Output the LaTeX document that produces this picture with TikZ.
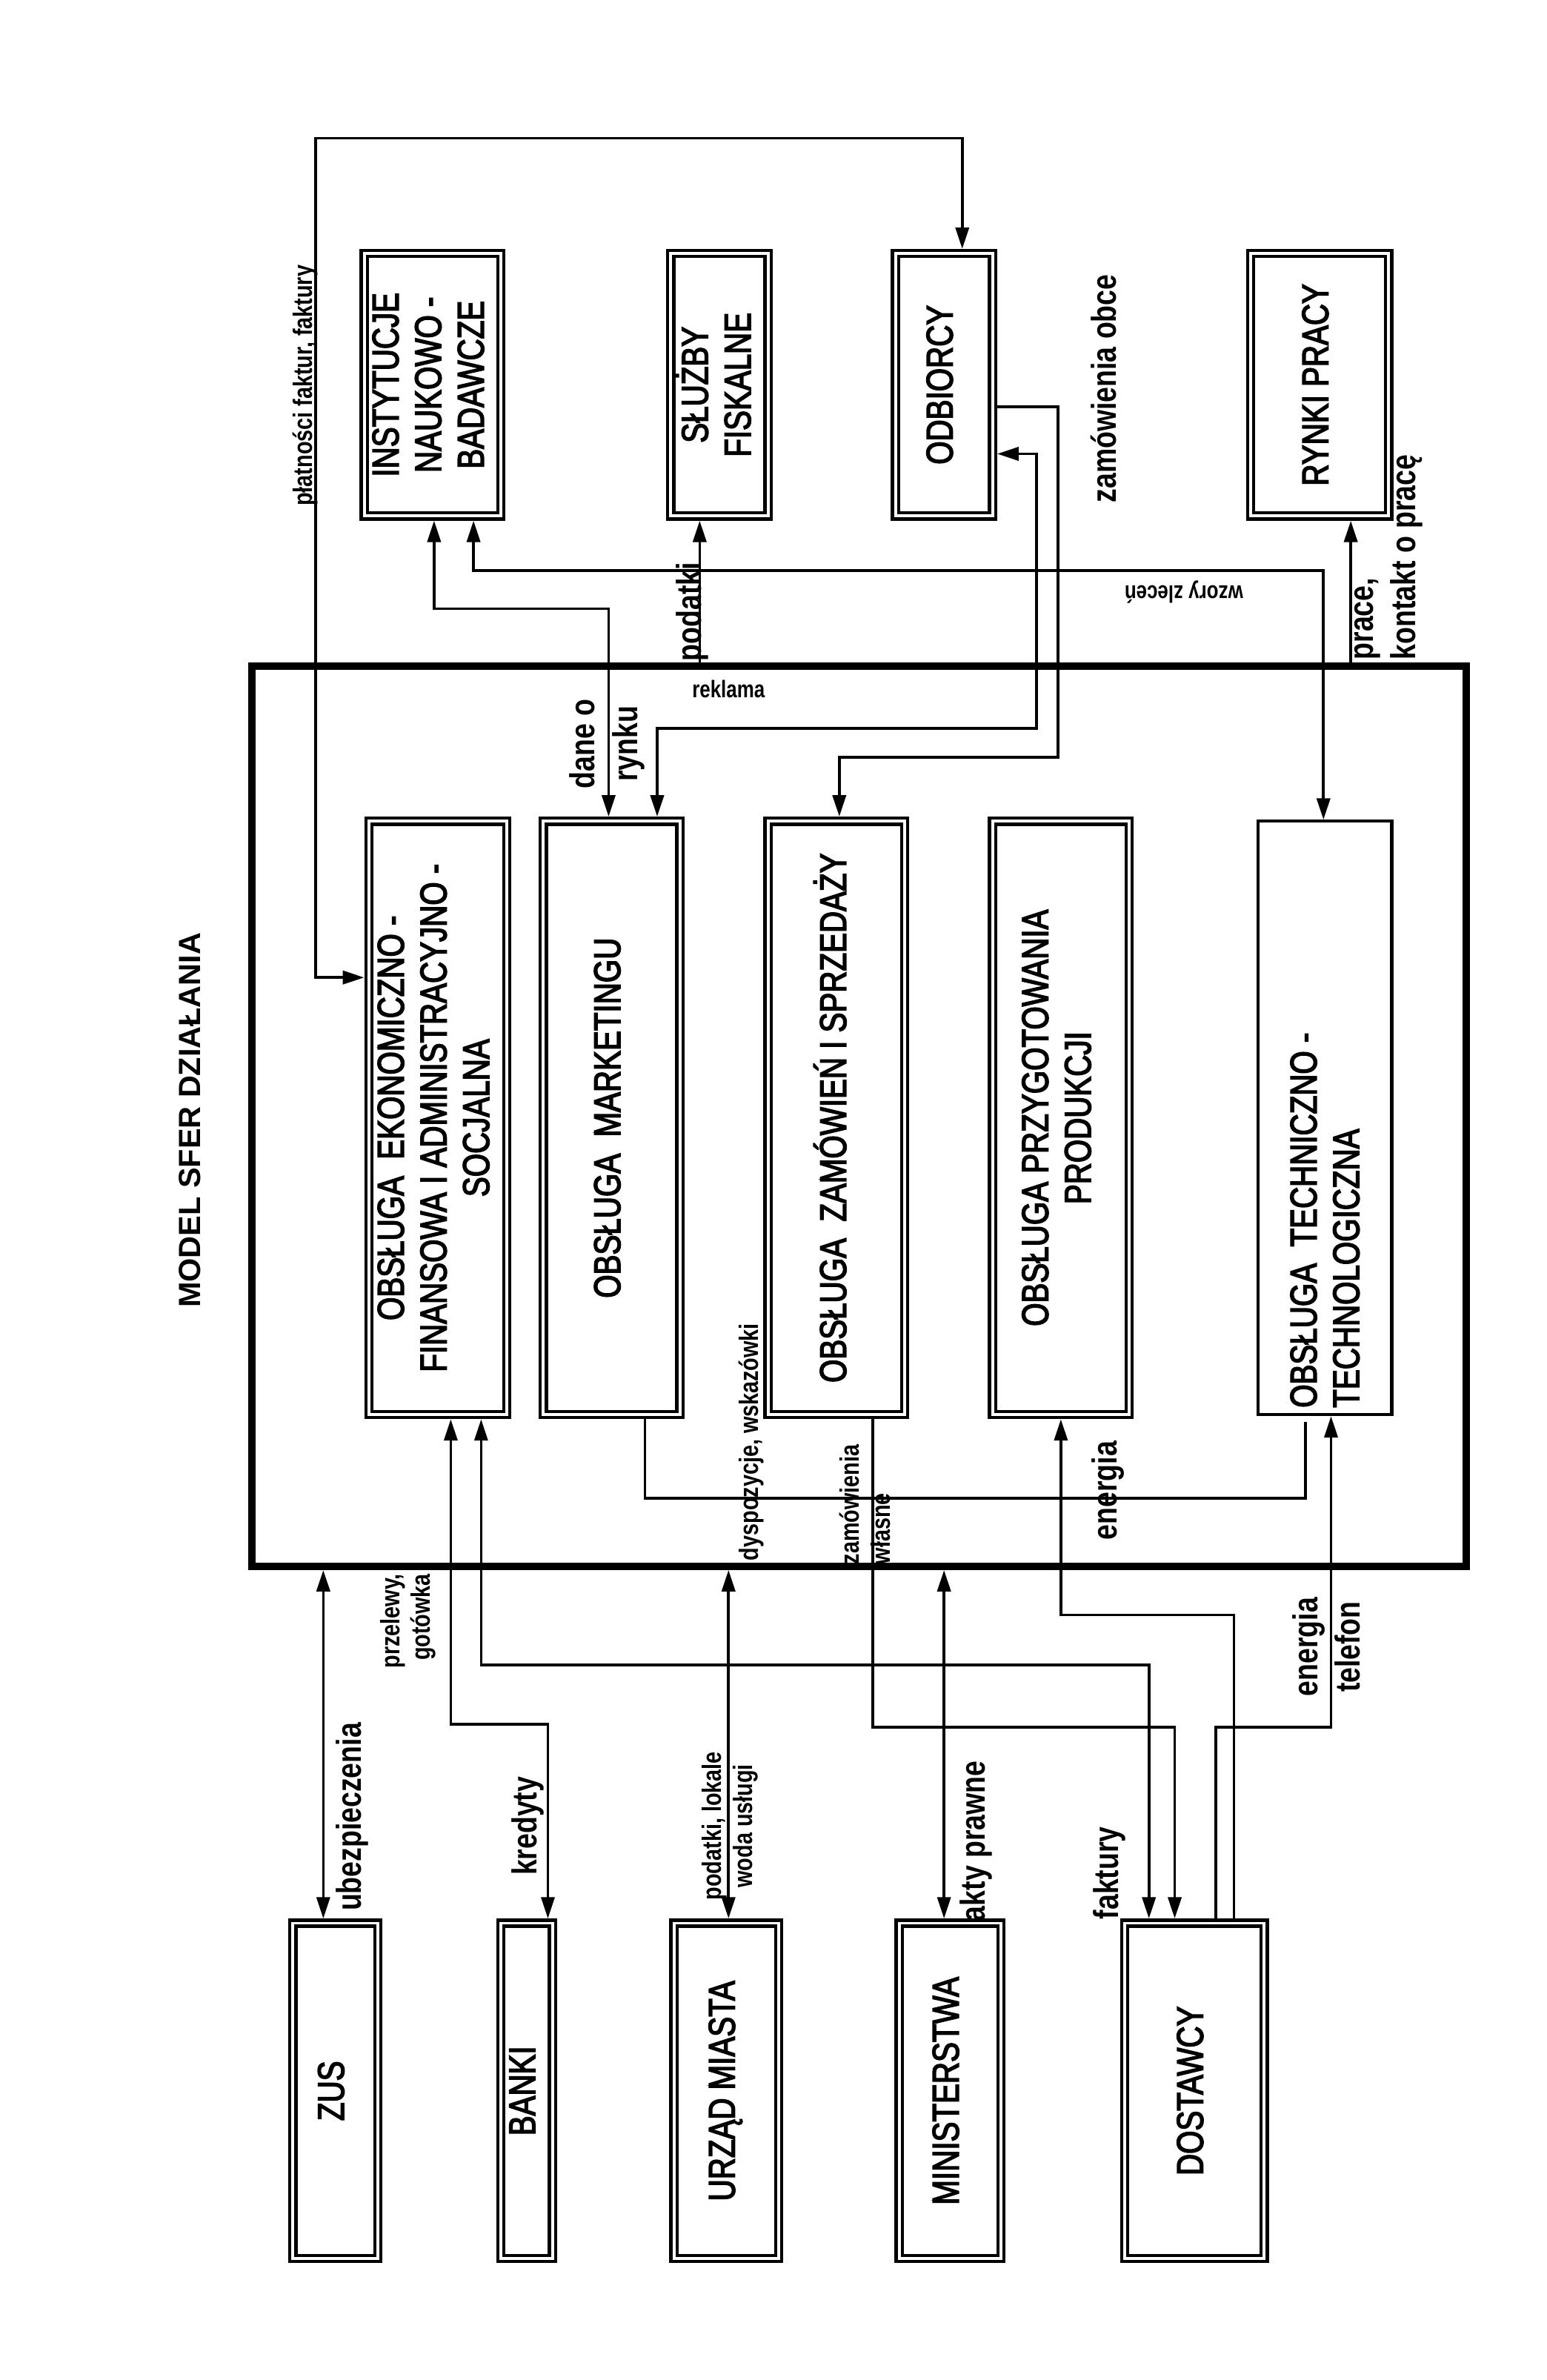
\documentclass[tikz,border=0pt]{standalone}
\usepackage{fontspec}
\usepackage{graphicx}
\setmainfont{Liberation Sans}
\newfontfamily\waski{Liberation Sans}[FakeStretch=0.8]
\newfontfamily\waskigr{Liberation Sans}[FakeStretch=0.8, FakeBold=3]
\usetikzlibrary{arrows.meta}

\newcommand{\pion}[1]{\rotatebox{90}{\begin{tabular}{@{}c@{}}#1\end{tabular}}}

\tikzset{
  sfera/.style={draw, double, double distance=1.1pt, line width=1.2pt, inner sep=0pt, outer sep=1.75pt,
    font=\waskigr\fontsize{14}{16}\selectfont},
  lacz/.style={line width=1pt},
  strz/.style={lacz, -{Triangle[length=8pt,width=5pt]}},
  strzz/.style={lacz, {Triangle[length=8pt,width=5pt]}-{Triangle[length=8pt,width=5pt]}},
  opis/.style={rotate=90, inner sep=0pt, align=center, font=\waski\bfseries\fontsize{13}{16}\selectfont},
  opism/.style={opis, font=\waski\bfseries\fontsize{10}{11.5}\selectfont},
}

\begin{document}
\begin{tikzpicture}[x=0.02cm, y=-0.02cm]
\useasboundingbox (0,0) rectangle (1019,1568);

\node[rotate=90, font=\bfseries\fontsize{11.5}{14}\selectfont] (tytul) at (125,738) {MODEL SFER DZIAŁANIA};

% otoczenie - gora
\node[sfera, minimum width=1.8cm, minimum height=3.46cm] (inst) at (285,253.5) {\pion{INSTYTUCJE\\NAUKOWO -\\BADAWCZE}};
\node[sfera, minimum width=1.28cm, minimum height=3.46cm] (sluzby) at (474,253.5) {\pion{SŁUŻBY\\FISKALNE}};
\node[sfera, minimum width=1.28cm, minimum height=3.46cm] (odb) at (622,253.5) {\pion{ODBIORCY}};
\node[sfera, minimum width=1.82cm, minimum height=3.46cm] (rynki) at (869.5,253.5) {\pion{RYNKI PRACY}};

% firma
\node[draw, line width=2.8pt, minimum width=16cm, minimum height=11.86cm] (firma) at (566,735.5) {};
\node[sfera, minimum width=1.82cm, minimum height=7.82cm] (ekon) at (288.5,736.5) {\pion{OBSŁUGA \ EKONOMICZNO -\\FINANSOWA I ADMINISTRACYJNO -\\SOCJALNA}};
\node[sfera, minimum width=1.8cm, minimum height=7.82cm] (mark) at (403,736.5) {\pion{OBSŁUGA \ MARKETINGU}};
\node[sfera, minimum width=1.8cm, minimum height=7.82cm] (zam) at (551,736.5) {\pion{OBSŁUGA \ ZAMÓWIEŃ I SPRZEDAŻY}};
\node[sfera, minimum width=1.8cm, minimum height=7.82cm] (prod) at (699,736.5) {\pion{OBSŁUGA PRZYGOTOWANIA\\PRODUKCJI}};
\node[draw, line width=1.2pt, inner sep=0pt, minimum width=1.76cm, minimum height=7.82cm] (tech) at (873,736.5) {};
\node[rotate=90, anchor=west, align=left, inner sep=0pt, font=\waskigr\fontsize{14}{16}\selectfont] (tech-t) at ([yshift=3pt]tech.south) {OBSŁUGA \ TECHNICZNO -\\TECHNOLOGICZNA};

% otoczenie - dol
\node[sfera, minimum width=1.12cm, minimum height=4.42cm] (zus) at (221,1377.5) {\pion{ZUS}};
\node[sfera, minimum width=0.68cm, minimum height=4.42cm] (banki) at (347,1377.5) {\pion{BANKI}};
\node[sfera, minimum width=1.38cm, minimum height=4.42cm] (urzad) at (478.5,1377.5) {\pion{URZĄD MIASTA}};
\node[sfera, minimum width=1.34cm, minimum height=4.42cm] (min) at (626,1377.5) {\pion{MINISTERSTWA}};
\node[sfera, minimum width=1.84cm, minimum height=4.42cm] (dost) at (787,1377.5) {\pion{DOSTAWCY}};

% przeplywy gora
\draw[strzz] (ekon.west |- 0,644) -| (208,91) -| (odb.north -| 634,0);
\node[opism] (l-platn) at (201,254) {płatności faktur, faktury};
\draw[strzz] (inst.south -| 286,0) |- (401,401) -- (mark.north -| 401,0);
\node[opis] (l-dane) at (400,490) {dane o\\rynku};
\draw[strzz] (inst.south -| 312,0) |- (872,376) -- (tech.north -| 872,0);
\node[rotate=180, inner sep=0pt, font=\waski\bfseries\fontsize{9}{10}\selectfont] (l-wzory) at (780,390) {wzory zleceń};
\draw[strz] (firma.north -| 461,0) -- (sluzby.south -| 461,0);
\node[opis] (l-podatki) at (456,403) {podatki};
\draw[strz] (odb.east |- 0,268) -| (697,499) -| (zam.north -| 553,0);
\node[opis] (l-zamobce) at (727,256) {zamówienia obce};
\draw[strzz] (odb.east |- 0,299) -| (683,480) -| (mark.north -| 433,0);
\node[inner sep=0pt, font=\waski\bfseries\fontsize{9}{10}\selectfont] (l-reklama) at (480,454) {reklama};
\draw[strz] (firma.north -| 890,0) -- (rynki.south -| 890,0);
\node[opis, anchor=north west, align=left] (l-prace) at (892,435) {prace,\\kontakt o pracę};

% przeplywy dol
\draw[strzz] (zus.north -| 213,0) -- (firma.south -| 213,0);
\node[opis] (l-ubezp) at (232,1197) {ubezpieczenia};
\draw[strzz] (ekon.south -| 297,0) |- (361,1136) -- (banki.north -| 361,0);
\node[opism, align=right] (l-przelewy) at (269,1068) {przelewy,\\gotówka};
\node[opis] (l-kredyty) at (348,1203) {kredyty};
\draw[strzz] (ekon.south -| 317,0) |- (757,1097) -- (dost.north -| 757,0);
\node[opis] (l-faktury) at (731,1234) {faktury};
\coordinate (tech-d) at (860,937);
\draw[lacz] (mark.south -| 425,0) |- (860,987) -- (tech-d);
\node[opism] (l-dysp) at (495,950) {dyspozycje, wskazówki};
\draw[strz] (zam.south -| 575,0) |- (774,1138) -- (dost.north -| 774,0);
\node[opism, anchor=north west, align=left] (l-zamwl) at (553,1031) {zamówienia\\własne};
\draw[strzz] (urzad.north -| 480,0) -- (firma.south -| 480,0);
\node[opism] (l-urzad) at (481,1203) {podatki, lokale\\woda usługi};
\draw[strzz] (min.north -| 622,0) -- (firma.south -| 622,0);
\node[opis] (l-akty) at (643,1213) {akty prawne};
\draw[strz] (dost.north -| 813,0) |- (699,1064) -- (prod.south -| 699,0);
\node[opis] (l-energia) at (730,982) {energia};
\draw[strz] (dost.north -| 801,0) |- (877,1138) -- (tech.south -| 877,0);
\node[opis] (l-entel) at (874,1085) {energia\\telefon};

\end{tikzpicture}
\end{document}
